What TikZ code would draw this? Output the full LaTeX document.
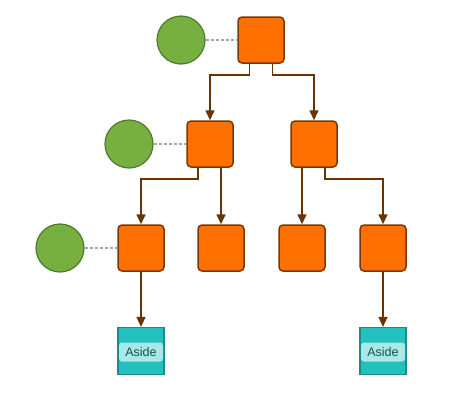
\documentclass[tikz,border=0pt]{standalone}
\usepackage{fontspec}
\setmainfont{Liberation Sans}
\usetikzlibrary{arrows.meta}
\definecolor{boxfill}{HTML}{FF7000}
\definecolor{boxline}{HTML}{7A3800}
\definecolor{arr}{HTML}{6B3300}
\definecolor{cfill}{HTML}{77B041}
\definecolor{cline}{HTML}{4E7A30}
\definecolor{tfill}{HTML}{22C0BE}
\definecolor{tline}{HTML}{1E8A88}
\definecolor{tband}{HTML}{A6E9E6}
\definecolor{ttext}{HTML}{1D4F50}
\begin{document}
\begin{tikzpicture}[x=1pt,y=-1pt,
  sq/.style={draw=boxline,fill=boxfill,line width=1.5pt,rounded corners=4pt,minimum width=46pt,minimum height=46pt,inner sep=0pt},
  circ/.style={circle,draw=cline,fill=cfill,line width=1.2pt,minimum size=48pt,inner sep=0pt},
  aside/.style={draw=tline,fill=tfill,line width=1.2pt,minimum width=46pt,minimum height=47pt,inner sep=0pt},
  band/.style={fill=tband,rounded corners=3pt,minimum width=44pt,minimum height=19pt,inner sep=0pt,font=\fontsize{12.5}{14}\selectfont,text=ttext},
  con/.style={draw=arr,line width=1.6pt,-{Triangle[length=10pt,width=9pt]}},
  dsh/.style={draw=gray!70,line width=1.1pt,dash pattern=on 3pt off 2pt}]
\useasboundingbox (0,0) rectangle (460,400);
% boxes
\node[sq] (r) at (261,40) {};
\node[sq] (a) at (210,144) {};
\node[sq] (b) at (314,144) {};
\node[sq] (a1) at (141,248) {};
\node[sq] (a2) at (221,248) {};
\node[sq] (b1) at (302,248) {};
\node[sq] (b2) at (383,248) {};
% circles
\node[circ] (c0) at (181,40) {};
\node[circ] (c1) at (129,144) {};
\node[circ] (c2) at (60,248) {};
\draw[dsh] (c0) -- (r);
\draw[dsh] (c1) -- (a);
\draw[dsh] (c2) -- (a1);
% aside
\node[aside] (s1) at (141,351) {};
\node[band] (l1) at (141,352) {Aside};
\node[aside] (s2) at (383,351) {};
\node[band] (l2) at (383,352) {Aside};
% connectors
\coordinate (rl) at ([xshift=-11.5pt]r.south);
\coordinate (rr) at ([xshift=11.5pt]r.south);
\coordinate (al) at ([xshift=-12pt]a.south);
\coordinate (ar) at ([xshift=11pt]a.south);
\coordinate (bl) at ([xshift=-12pt]b.south);
\coordinate (br) at ([xshift=11pt]b.south);
\draw[con] (rl) -- ++(0,11) -| (a.north);
\draw[con] (rr) -- ++(0,11) -| (b.north);
\draw[con] (al) -- ++(0,11) -| (a1.north);
\draw[con] (ar) -- (a2.north);
\draw[con] (bl) -- (b1.north);
\draw[con] (br) -- ++(0,11) -| (b2.north);
\draw[con] (a1.south) -- (s1.north);
\draw[con] (b2.south) -- (s2.north);
\end{tikzpicture}
\end{document}
